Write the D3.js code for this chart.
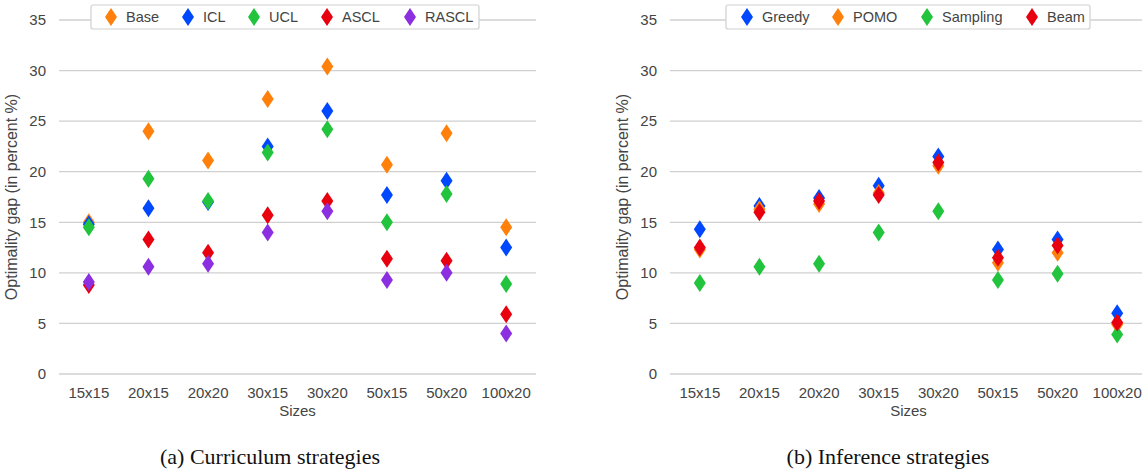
<!DOCTYPE html>
<html>
<head>
<meta charset="utf-8">
<script src="https://cdn.jsdelivr.net/npm/d3@7"></script>
<style>
  body { margin: 0; background: #fff; }
  text { font-family: "Liberation Sans", Arial, sans-serif; fill: #444; }
  .caption { font-family: "Liberation Serif", "Times New Roman", serif; fill: #111; }
</style>
</head>
<body>
<div id="chart"></div>
<script>
var sizes = ['15x15', '20x15', '20x20', '30x15', '30x20', '50x15', '50x20', '100x20'];
var yTicks = [0, 5, 10, 15, 20, 25, 30, 35];

// (a) curriculum strategies
var curriculumNames = ['Base', 'ICL', 'UCL', 'ASCL', 'RASCL'];
var base  = [15.0, 24.0, 21.1, 27.2, 30.4, 20.7, 23.8, 14.5];
var icl   = [14.8, 16.4, 17.0, 22.5, 26.0, 17.7, 19.1, 12.5];
var ucl   = [14.5, 19.3, 17.1, 21.9, 24.2, 15.0, 17.8, 8.9];
var ascl  = [8.8, 13.3, 12.0, 15.7, 17.1, 11.4, 11.2, 5.9];
var rascl = [9.1, 10.6, 10.9, 14.0, 16.1, 9.3, 10.0, 4.0];

// (b) inference strategies
var inferenceNames = ['Greedy', 'POMO', 'Sampling', 'Beam'];
var greedy   = [14.3, 16.6, 17.4, 18.6, 21.5, 12.3, 13.3, 6.0];
var pomo     = [12.3, 16.3, 16.8, 17.9, 20.6, 11.0, 12.0, 4.9];
var sampling = [9.0, 10.6, 10.9, 14.0, 16.1, 9.3, 9.9, 3.9];
var beam     = [12.5, 16.0, 17.1, 17.7, 20.9, 11.5, 12.7, 5.1];

var orange = '#ff800a', blue = '#0048ff', green = '#22c33d', red = '#e8000f', purple = '#8b2fe0';

var W = 1142, H = 472;
var svg = d3.select('#chart').append('svg')
  .attr('width', W)
  .attr('height', H);

svg.append('rect').attr('width', W).attr('height', H).attr('fill', '#fff');

var diamond = 'M0,-9L6,0L0,9L-6,0Z';

function drawPanel(cfg) {
  var x = d3.scaleBand().domain(sizes).range([cfg.x0, cfg.x0 + 477]);
  var y = d3.scaleLinear().domain([0, 35]).range([374, 20]);
  var g = svg.append('g');

  // gridlines
  g.selectAll('.grid').data(yTicks).enter().append('line')
    .attr('x1', cfg.x0).attr('x2', cfg.x0 + 477)
    .attr('y1', function(d) { return y(d); })
    .attr('y2', function(d) { return y(d); })
    .attr('stroke', '#d0d0d0').attr('stroke-width', 1.3);

  // y tick labels
  g.selectAll('.ylab').data(yTicks).enter().append('text')
    .attr('x', cfg.x0 - 13)
    .attr('y', function(d) { return y(d); })
    .attr('dy', '0.35em')
    .attr('text-anchor', 'end')
    .style('font-size', '15px')
    .text(function(d) { return d; });

  // x tick labels
  g.selectAll('.xlab').data(sizes).enter().append('text')
    .attr('x', function(d) { return x(d) + x.bandwidth() / 2; })
    .attr('y', 398)
    .attr('text-anchor', 'middle')
    .style('font-size', '15px')
    .text(function(d) { return d; });

  g.append('text')
    .attr('x', cfg.x0 + 477 / 2).attr('y', 416)
    .attr('text-anchor', 'middle')
    .style('font-size', '15px')
    .text('Sizes');

  g.append('text')
    .attr('transform', 'translate(' + cfg.titleX + ',197) rotate(-90)')
    .attr('text-anchor', 'middle')
    .style('font-size', '16px')
    .text('Optimality gap (in percent %)');

  // points, series in order so later ones sit on top
  cfg.series.forEach(function(s) {
    g.selectAll(null).data(s.values).enter().append('path')
      .attr('d', diamond)
      .attr('fill', s.color)
      .attr('transform', function(d, i) {
        return 'translate(' + (x(sizes[i]) + x.bandwidth() / 2) + ',' + y(d) + ')';
      });
  });

  // legend
  var lg = g.append('g');
  lg.append('rect')
    .attr('x', cfg.legend.x).attr('y', 5)
    .attr('width', cfg.legend.w).attr('height', 24)
    .attr('rx', 2)
    .attr('fill', '#fff').attr('stroke', '#d0d0d0').attr('stroke-width', 1.2);
  var items = lg.selectAll('.item').data(cfg.series).enter().append('g')
    .attr('transform', function(d, i) { return 'translate(' + cfg.legend.pos[i] + ',17)'; });
  items.append('path').attr('d', diamond).attr('fill', function(d) { return d.color; });
  items.append('text')
    .attr('x', 15).attr('dy', '0.35em')
    .style('font-size', '14.5px')
    .text(function(d) { return d.name; });

  svg.append('text')
    .attr('class', 'caption')
    .attr('x', cfg.capX).attr('y', 464)
    .attr('text-anchor', 'middle')
    .style('font-size', '22px')
    .text(cfg.caption);
}

drawPanel({
  x0: 59, titleX: 17, capX: 270,
  caption: '(a) Curriculum strategies',
  series: [
    { name: curriculumNames[0], values: base, color: orange },
    { name: curriculumNames[1], values: icl, color: blue },
    { name: curriculumNames[2], values: ucl, color: green },
    { name: curriculumNames[3], values: ascl, color: red },
    { name: curriculumNames[4], values: rascl, color: purple }
  ],
  legend: { x: 91, w: 388, pos: [111, 188, 254, 327, 410] }
});

drawPanel({
  x0: 670, titleX: 628, capX: 888,
  caption: '(b) Inference strategies',
  series: [
    { name: inferenceNames[0], values: greedy, color: blue },
    { name: inferenceNames[1], values: pomo, color: orange },
    { name: inferenceNames[2], values: sampling, color: green },
    { name: inferenceNames[3], values: beam, color: red }
  ],
  legend: { x: 726, w: 364, pos: [747, 838, 927, 1032] }
});
</script>
</body>
</html>
